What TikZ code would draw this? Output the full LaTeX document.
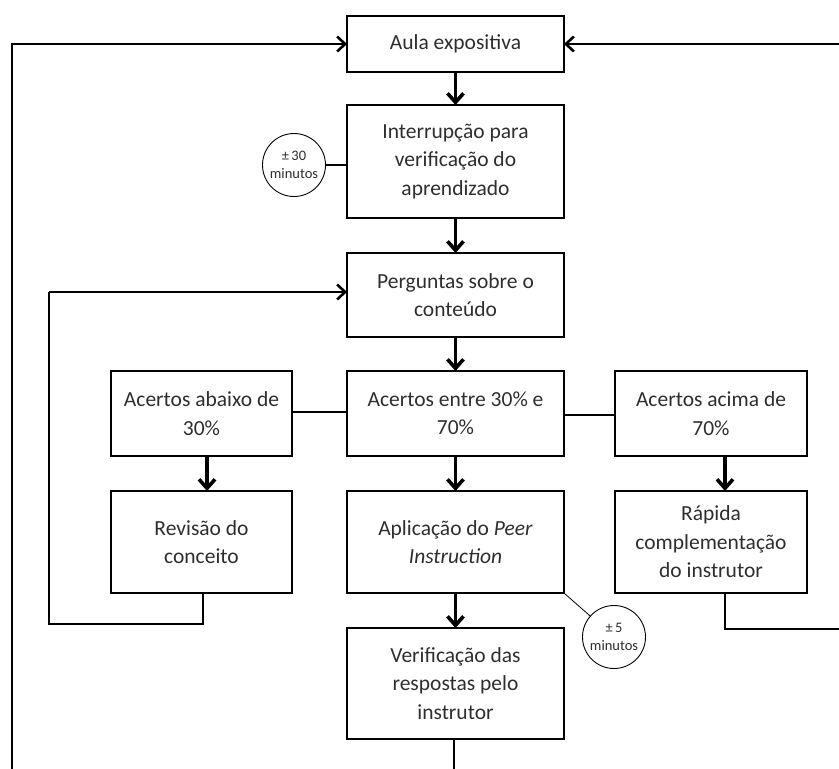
\documentclass[tikz,border=0pt]{standalone}
\usepackage{fontspec}
\setmainfont{Carlito}
\usetikzlibrary{arrows.meta}
\begin{document}
\begin{tikzpicture}[x=1pt,y=-1pt,
  box/.style={draw, line width=2.4pt, align=center, inner sep=0pt, outer sep=0pt,
    font=\fontsize{21.5}{28.5}\selectfont, text=black!82},
  wide/.style={box, minimum width=217pt},
  side/.style={box, minimum width=181pt},
  sider/.style={box, minimum width=192pt},
  circ/.style={draw, circle, line width=0.9pt, minimum size=63pt, inner sep=0pt,
    outer sep=0pt, align=center, font=\fontsize{14.5}{18.5}\selectfont, text=black!82},
  varr/.style={line width=3.6pt, -{Straight Barb[length=9pt,width=16pt]}},
  harr/.style={line width=2.6pt, -{Straight Barb[length=8pt,width=15pt]}},
  lp/.style={line width=2.6pt},
  conn/.style={line width=1.8pt},
  thinl/.style={line width=0.8pt}]
\useasboundingbox (0,0) rectangle (839,769);

% centre column
\node[wide, minimum height=56pt] (aula) at (455.5,44) {Aula expositiva};
\node[wide, minimum height=113pt] (int) at (455.5,161.5) {Interrupção para\\verificação do\\aprendizado};
\node[wide, minimum height=84pt] (perg) at (455.5,295) {Perguntas sobre o\\conteúdo};
\node[wide, minimum height=85pt] (ent) at (455.5,413.5) {Acertos entre 30\% e\\70\%};
\node[wide, minimum height=102pt] (apl) at (455.5,542) {Aplicação do \textit{Peer}\\\textit{Instruction}};
\node[wide, minimum height=111pt] (ver) at (455.5,683.5) {Verificação das\\respostas pelo\\instrutor};

% side columns
\node[side, minimum height=85pt] (aba) at (201.5,413.5) {Acertos abaixo de\\30\%};
\node[side, minimum height=102pt] (rev) at (201.5,542) {Revisão do\\conceito};
\node[sider, minimum height=85pt] (aci) at (711,413.5) {Acertos acima de\\70\%};
\node[sider, minimum height=102pt] (rap) at (711,542) {Rápida\\complementação\\do instrutor};

% time circles
\node[circ] (c30) at (294,165) {±\,30\\minutos};
\node[circ] (c5) at (614,637) {±\,5\\minutos};

% free ends at the picture's edges
\coordinate (bl) at (12,769);
\coordinate (tl) at (12,44);
\coordinate (tr) at (839,44);
\coordinate (rr) at (839,629);
\coordinate (bv) at (454,769);
\coordinate (lp1) at (49,624);
\coordinate (lp2) at (49,292);

% vertical arrows
\draw[varr] (aula) -- (int);
\draw[varr] (int) -- (perg);
\draw[varr] (perg) -- (ent);
\draw[varr] (ent) -- (apl);
\draw[varr] (apl) -- (ver);
\draw[varr] ([xshift=5.5pt]aba.south) -- ([xshift=5.5pt]rev.north);
\draw[varr] ([xshift=14pt]aci.south) -- ([xshift=14pt]rap.north);

% side links
\draw[conn] (aba.east |- 0,412) -- (ent.west |- 0,412);
\draw[conn] (ent.east |- 0,415) -- (aci.west |- 0,415);
\draw[conn] (c30.east) -- (c30.east -| int.west);
\draw[thinl] (apl.south east) -- (c5);

% loops
\draw[harr] (bl) -- (tl) -- (aula.west |- tl);
\draw[harr] (tr) -- (aula.east |- tr);
\draw[lp] ([xshift=1.5pt]rev.south) |- (lp1) -- (lp2);
\draw[harr] (lp2) -- (perg.west |- lp2);
\draw[lp] ([xshift=14pt]rap.south) |- (rr);
\draw[lp] (ver.south -| bv) -- (bv);
\end{tikzpicture}
\end{document}
